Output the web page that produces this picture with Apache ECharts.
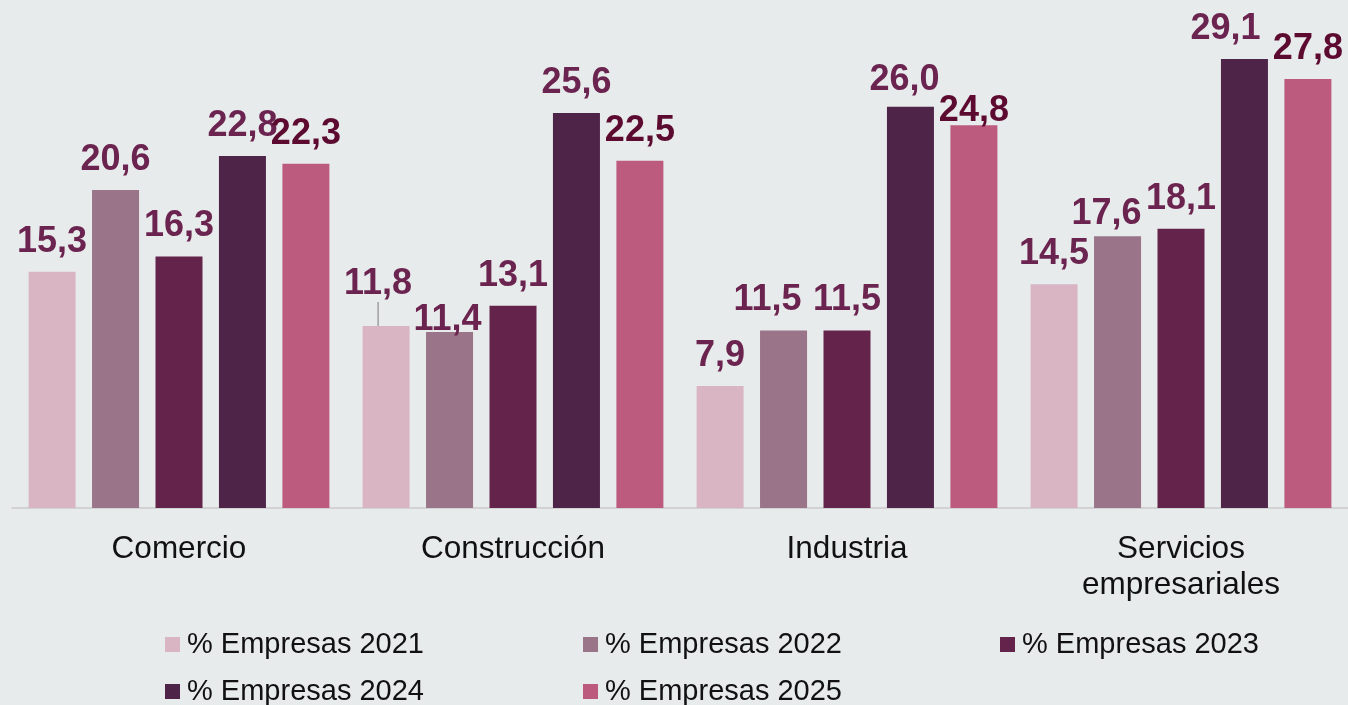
<!DOCTYPE html>
<html>
<head>
<meta charset="utf-8">
<script src="https://cdn.jsdelivr.net/npm/echarts@6/dist/echarts.min.js"></script>
<style>
  html, body { margin: 0; padding: 0; background: #E8EBEB; }
  #chart { width: 1348px; height: 705px; }
</style>
</head>
<body>
<div id="chart"></div>
<script>
var categories = ['Comercio', 'Construcción', 'Industria', 'Servicios\nempresariales'];
var seriesNames = ['% Empresas 2021', '% Empresas 2022', '% Empresas 2023', '% Empresas 2024', '% Empresas 2025'];
var values2021 = [15.3, 11.8, 7.9, 14.5];
var values2022 = [20.6, 11.4, 11.5, 17.6];
var values2023 = [16.3, 13.1, 11.5, 18.1];
var values2024 = [22.8, 25.6, 26.0, 29.1];
var values2025 = [22.3, 22.5, 24.8, 27.8];

var barColors = ['#D9B5C4', '#9A7489', '#63234A', '#4E2449', '#BC5B7E'];
var labelColors = ['#6B2450', '#6B2450', '#6B2450', '#6B2450', '#5C0A30'];

// labels nudged by hand in the original ("series-category": offset)
var labelMoves = {
  '0-1': { dx: -8, dy: -12 },
  '1-1': { dx: -2, dy: 18 },
  '1-2': { dx: -16, dy: 0 },
  '1-3': { dx: -11, dy: 8 },
  '3-2': { dx: -6, dy: 3 },
  '3-3': { dx: -19, dy: 0 },
  '4-2': { dx: 0, dy: 16 }
};

function makeSeries(idx, vals) {
  return {
    name: seriesNames[idx],
    type: 'bar',
    barWidth: 47,
    barGap: '35%',
    itemStyle: { color: barColors[idx] },
    label: {
      show: true,
      position: 'top',
      distance: 12,
      fontFamily: 'Liberation Sans, Arial, sans-serif',
      fontWeight: 'bold',
      fontSize: 36,
      color: labelColors[idx],
      formatter: function (p) { return p.value.toFixed(1).replace('.', ','); }
    },
    labelLine: { show: false, lineStyle: { color: '#A0A0A0', width: 1.5 } },
    labelLayout: function (p) {
      var m = labelMoves[idx + '-' + p.dataIndex];
      return m ? { dx: m.dx, dy: m.dy } : {};
    },
    data: vals.map(function (v, i) {
      if (idx === 0 && i === 1) return { value: v, labelLine: { show: true } };
      return v;
    })
  };
}

function makeLegend(idx, left, top) {
  return {
    data: [seriesNames[idx]],
    left: left,
    top: top,
    padding: 0,
    itemWidth: 15,
    itemHeight: 15,
    itemGap: 0,
    icon: 'rect',
    textStyle: {
      fontFamily: 'Liberation Sans, Arial, sans-serif',
      fontSize: 29,
      color: '#111',
      padding: [0, 0, 0, 2]
    }
  };
}

var chart = echarts.init(document.getElementById('chart'));
chart.setOption({
  backgroundColor: '#E8EBEB',
  animation: false,
  color: barColors,
  grid: { left: 12, right: -14, top: 45, bottom: 197, containLabel: false },
  legend: [
    makeLegend(0, 165, 630),
    makeLegend(1, 583, 630),
    makeLegend(2, 1000, 630),
    makeLegend(3, 165, 677),
    makeLegend(4, 583, 677)
  ],
  xAxis: {
    type: 'category',
    data: categories,
    axisLine: { show: true, lineStyle: { color: '#D2D2D2', width: 2 } },
    axisTick: { show: false },
    axisLabel: {
      fontFamily: 'Liberation Sans, Arial, sans-serif',
      fontSize: 31.5,
      lineHeight: 36,
      color: '#111',
      margin: 23
    }
  },
  yAxis: {
    type: 'value',
    min: 0,
    max: 30,
    show: false,
    splitLine: { show: false }
  },
  series: [
    makeSeries(0, values2021),
    makeSeries(1, values2022),
    makeSeries(2, values2023),
    makeSeries(3, values2024),
    makeSeries(4, values2025)
  ]
});
</script>
</body>
</html>
